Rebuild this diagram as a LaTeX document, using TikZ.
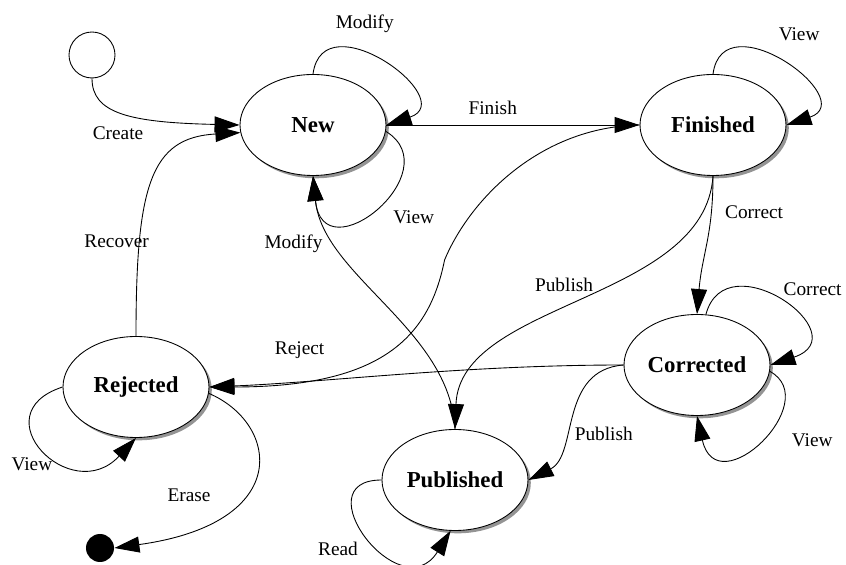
\documentclass[tikz,border=0pt]{standalone}
\usepackage{fontspec}
\setmainfont{Liberation Serif}
\usepackage{tikz}
\usetikzlibrary{positioning}
\usetikzlibrary{shapes.geometric}
\usetikzlibrary{shadows}
\usetikzlibrary{arrows.meta}

\begin{document}
\begin{tikzpicture}[
    >={Triangle[length=5mm,width=3.2mm]},
    line width=0.5pt,
    state/.style={ellipse, draw, fill=white, on grid, minimum width=2.92cm, minimum height=2.02cm, inner sep=0pt,
        font=\fontsize{13}{15}\selectfont\bfseries,
        drop shadow={shadow xshift=1.6pt, shadow yshift=-1.6pt, fill=black!70, opacity=0.6}},
    lbl/.style={font=\fontsize{11}{13}\selectfont, inner sep=1pt}]
    \useasboundingbox (-6.26,2.5) rectangle (10.66,-8.8);
    \node[state] (New) {New};
    \node[state, right=8cm of New] (Finished) {Finished};
    \node[state, below left=4.8cm and 0.32cm of Finished] (Corrected) {Corrected};
    \node[state, below left=5.24cm and 3.54cm of New] (Rejected) {Rejected};
    \node[state, below right=7.1cm and 2.84cm of New] (Published) {Published};
    \node[draw, circle, on grid, minimum size=0.92cm, above left=1.4cm and 4.42cm of New] (start) {};
    \node[fill, circle, on grid, minimum size=0.56cm, below left=3.22cm and 0.72cm of Rejected] (stop) {};
    \draw[->] (start.south) .. controls +(0,-0.7) and +(-2.2,0.05) .. (New.west) node[lbl, pos=0.45, below=2.5mm] {Create};
    \draw[->] (New.north) .. controls +(0.2,1.5) and +(1.5,0.5) .. (New.east) node[lbl, pos=0.4, above=3.5mm] {Modify};
    \draw[->] (New.-5) .. controls +(1.3,-0.8) and +(0.2,-2) .. (New.south) node[lbl, pos=0.4, below right=3.1mm and 0mm] {View};
    \draw[->] (New.east) -- (Finished.west) node[lbl, pos=0.42, above=1.7mm] {Finish};
    \draw[->] (Finished.north) .. controls +(0.2,1.5) and +(1.5,0.5) .. (Finished.east) node[lbl, pos=0.5, above right=3.8mm and -1mm] {View};
    \draw[->] (Finished.south) .. controls +(0,-1.2) and +(0.1,1.2) .. (Corrected.north) node[lbl, pos=0.27, right=2.4mm, yshift=1mm] {Correct};
    \draw[->] (Finished.south) .. controls +(-0.16,-2.5) and +(0.1,2.56) .. (Published.north) node[lbl, pos=0.55, above=3.4mm] {Publish};
    \draw[->] (Finished.west) .. controls +(-2,-0.04) and +(0.5,1.2) .. ++(-3.9,-2.7) .. controls +(-0.3,-1.5) and +(3.5,0) .. (Rejected.east) node[lbl, pos=0.8, above=4mm] {Reject};
    \draw[->] (Corrected.80) .. controls +(0.4,1.5) and +(1.8,0.6) .. (Corrected.east) node[lbl, pos=0.5, above right=0.5mm and 0.4mm] {Correct};
    \draw[->] (Corrected.-5) .. controls +(1.1,-0.6) and +(0.4,-1.8) .. (Corrected.south) node[lbl, pos=0.4, below right=1.2mm and 3.2mm] {View};
    \draw[->] (Corrected.west) .. controls +(-1.3,-0.1) and +(1,0.5) .. (Published.east) node[lbl, pos=0.55, below right=0.5mm and 1mm] {Publish};
    \draw[->] (Corrected.west) .. controls +(-3.2,0) and +(2.4,0.1) .. (Rejected.east);
    \draw[->] (Published.north) .. controls +(-0.1,2) and +(0.2,-2) .. (New.south) node[lbl, pos=0.75, left=2.8mm] {Modify};
    \draw[->] (Published.west) .. controls +(-1.6,0) and +(-1,-1.6) .. (Published.-95) node[lbl, pos=0.55, left=2.8mm, yshift=-1.4mm] {Read};
    \draw[->] (Rejected.north) .. controls +(0,3) and +(-1.8,-0.1) .. (New.186) node[lbl, pos=0.25, xshift=-4.6mm] {Recover};
    \draw[->] (Rejected.west) .. controls +(-1.66,-0.54) and +(-1.3,-1.4) .. (Rejected.south) node[lbl, pos=0.62, left=1.4mm, yshift=-1mm] {View};
    \draw[->] (Rejected.-5) .. controls +(1.4,-0.6) and +(3.6,0.5) .. (stop.east) node[lbl, pos=0.62, left=6mm] {Erase};
\end{tikzpicture}
\end{document}
